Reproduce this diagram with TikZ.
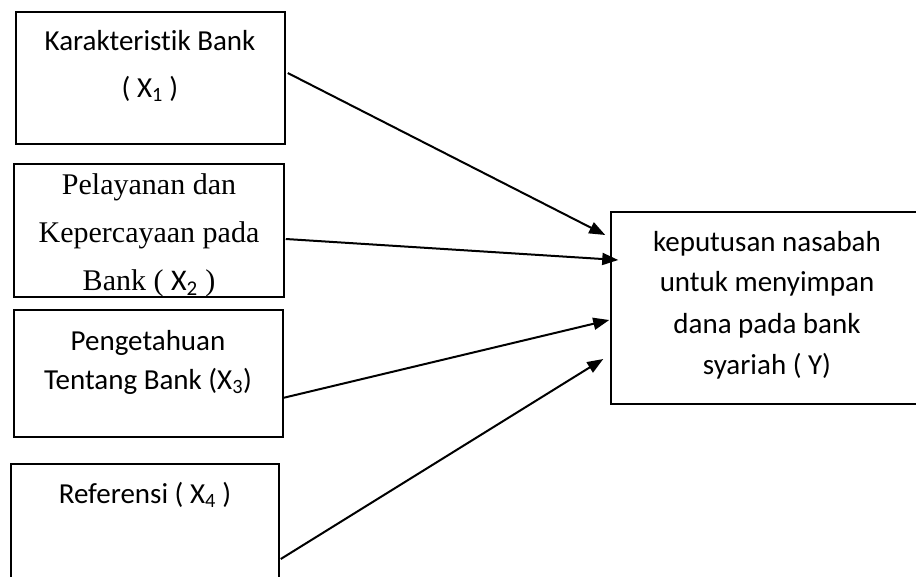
\documentclass[tikz,border=0pt]{standalone}
\usepackage{fontspec}
\setmainfont[Ligatures=NoCommon]{Carlito}
\newfontfamily\timesf{Liberation Serif}
\newfontfamily\carl[Ligatures=NoCommon]{Carlito}
\usetikzlibrary{arrows.meta,calc}
\begin{document}
\begin{tikzpicture}[x=1pt,y=-1pt,
 box/.style={draw, line width=1.5pt, inner sep=0pt},
 lbl/.style={anchor=base, inner sep=0pt, font=\fontsize{29}{29}\selectfont},
 slbl/.style={anchor=base, inner sep=0pt, font=\fontsize{30}{30}\timesf},
 arr/.style={line width=2pt, -{Triangle[length=16pt,width=12pt]}}]
\useasboundingbox (0,0) rectangle (916,576);
\begin{scope}
\clip (0,0) rectangle (916,576);
\node[box, minimum width=269pt, minimum height=132pt] (b1) at (150.5,78) {};
\node[box, minimum width=270pt, minimum height=133pt] (b2) at (149,230.5) {};
\node[box, minimum width=269pt, minimum height=127pt] (b3) at (148.5,373.5) {};
\node[box, minimum width=268pt, minimum height=131pt] (b4) at (145,529.5) {};
\node[box, minimum width=312pt, minimum height=192pt] (bY) at (767,308) {};

\node[lbl] (t1a) at (150,50) {Karakteristik Bank};
\node[lbl] (t1b) at (150,97) {( X\textsubscript{1} )};
\node[slbl] (t2a) at (149,194) {Pelayanan dan};
\node[slbl] (t2b) at (149,242) {Kepercayaan pada};
\node[slbl] (t2c) at (149,290) {Bank ( {\carl X\textsubscript{2}} )};
\node[lbl] (t3a) at (148,350) {Pengetahuan};
\node[lbl] (t3b) at (148,389) {Tentang Bank (X\textsubscript{3})};
\node[lbl] (t4) at (145,503) {Referensi ( X\textsubscript{4} )};
\node[lbl] (tYa) at (767,251) {keputusan nasabah};
\node[lbl] (tYb) at (767,291) {untuk menyimpan};
\node[lbl] (tYc) at (767,333) {dana pada bank};
\node[lbl] (tYd) at (767,374) {syariah ( Y)};

\draw[arr] ($(b1.east)+(2,-5)$) -- ($(bY.west)+(-5,-73)$);
\draw[arr] ($(b2.east)+(1,8.5)$) -- ($(bY.west)+(8,-48)$);
\draw[arr] ($(b3.east)+(-1,24.5)$) -- ($(bY.west)+(-1,12)$);
\draw[arr] ($(b4.east)+(1,29.5)$) -- ($(bY.west)+(-7,51)$);
\end{scope}
\end{tikzpicture}
\end{document}
